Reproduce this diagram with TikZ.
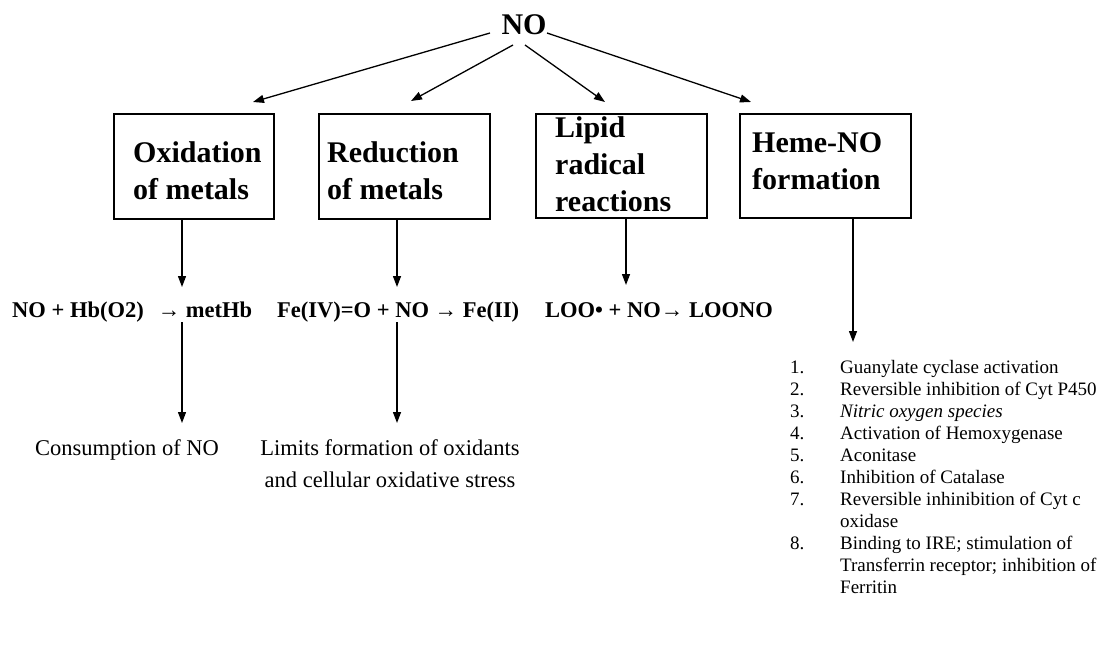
\documentclass[tikz,border=0pt]{standalone}
\usepackage{fontspec}
\setmainfont{Liberation Serif}
\usetikzlibrary{arrows.meta}
\begin{document}
\begin{tikzpicture}[x=1pt,y=-1pt,
  arr/.style={line width=1.3pt,-{Triangle[length=11pt,width=8pt]}},
  boxr/.style={draw,line width=1.6pt,anchor=north west,inner sep=0pt},
  boxt/.style={anchor=base west,inner sep=0pt,align=left,font=\fontsize{30}{37}\selectfont\bfseries},
  eq/.style={anchor=base west,inner sep=0pt,font=\fontsize{22.5}{27}\selectfont\bfseries},
  res/.style={anchor=base west,inner sep=0pt,font=\fontsize{22.5}{32}\selectfont},
  lst/.style={anchor=base west,inner sep=0pt,font=\fontsize{19}{22}\selectfont}]
\fill[white] (0,0) rectangle (1107,652);
\useasboundingbox (0,0) rectangle (1107,652);

% top node
\node[anchor=base,inner sep=0pt,font=\fontsize{30}{36}\selectfont\bfseries] (no) at (524,35) {NO};

% boxes
\node[boxr,minimum width=160pt,minimum height=105pt] (b1) at (113,113) {};
\node[boxr,minimum width=171pt,minimum height=105pt] (b2) at (318,113) {};
\node[boxr,minimum width=171pt,minimum height=104pt] (b3) at (535,113) {};
\node[boxr,minimum width=171pt,minimum height=104pt] (b4) at (739,113) {};
% (multi-line nodes: base anchor = baseline of the last line)
\node[boxt] (t1) at (133,200) {Oxidation\\of metals};
\node[boxt] (t2) at (327,200) {Reduction\\of metals};
\node[boxt] (t3) at (555,212) {Lipid\\radical\\reactions};
\node[boxt] (t4) at (752,190) {Heme-NO\\formation};

% arrows from NO
\coordinate (s1) at (490,33);  \coordinate (e1) at (253,102);
\coordinate (s2) at (513,45);  \coordinate (e2) at (411,101);
\coordinate (s3) at (525,45);  \coordinate (e3) at (605,102);
\coordinate (s4) at (547,33);  \coordinate (e4) at (751,102);
\draw[arr] (s1) -- (e1);
\draw[arr] (s2) -- (e2);
\draw[arr] (s3) -- (e3);
\draw[arr] (s4) -- (e4);

% equations
\node[eq] (q1) at (12,317) {NO + Hb(O2)\hspace{14pt}→ metHb};
\node[eq] (q2) at (277,317) {Fe(IV)=O + NO → Fe(II)};
\node[eq] (q3) at (545,317) {LOO• + NO→ LOONO};

% arrows boxes -> equations
\coordinate (d1) at (182,287);
\coordinate (d2) at (397,287);
\coordinate (d3) at (626,285);
\coordinate (d4) at (853,342);
\draw[arr] (b1.south -| d1) -- (d1);
\draw[arr] (b2.south -| d2) -- (d2);
\draw[arr] (b3.south -| d3) -- (d3);
\draw[arr] (b4.south -| d4) -- (d4);

% results
\coordinate (u1) at (182,322); \coordinate (v1) at (182,423);
\coordinate (u2) at (397,322); \coordinate (v2) at (397,423);
\draw[arr] (u1) -- (v1);
\draw[arr] (u2) -- (v2);
\node[res] (r1) at (35,455) {Consumption of NO};
\node[anchor=base,inner sep=0pt,align=center,font=\fontsize{22.5}{32}\selectfont] (r2) at (390,487) {Limits formation of oxidants\\and cellular oxidative stress};

% list
\foreach \k/\n/\t in {0/1./{Guanylate cyclase activation},
  1/2./{Reversible inhibition of Cyt P450},
  2/3./{\textit{Nitric oxygen species}},
  3/4./{Activation of Hemoxygenase},
  4/5./{Aconitase},
  5/6./{Inhibition of Catalase},
  6/7./{Reversible inhinibition of Cyt c},
  7/{}/{oxidase},
  8/8./{Binding to IRE; stimulation of},
  9/{}/{Transferrin receptor; inhibition of},
  10/{}/{Ferritin}}{
  \node[lst] (n\k) at (790,373+22*\k) {\n};
  \node[lst] (l\k) at (840,373+22*\k) {\t};
}
\end{tikzpicture}
\end{document}
